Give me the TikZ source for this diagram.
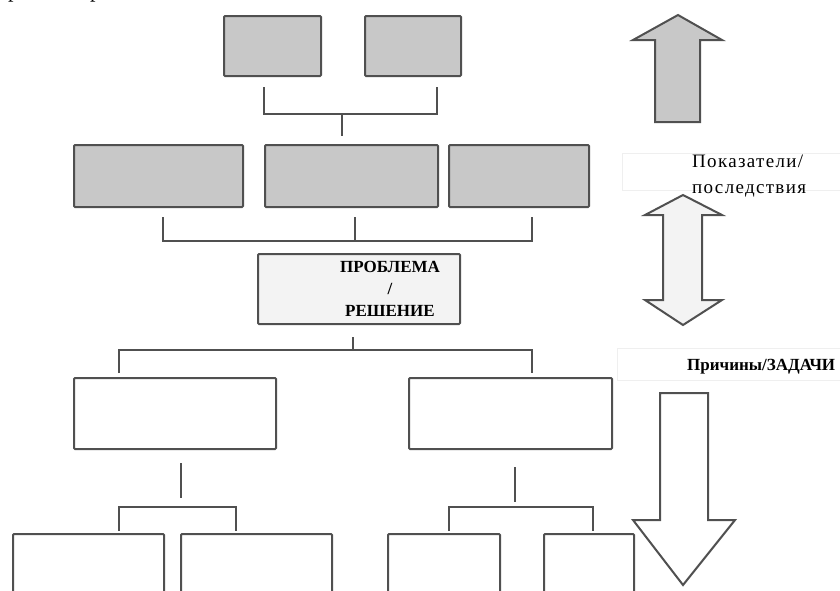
\documentclass[tikz,border=0pt]{standalone}
\usepackage{fontspec}
\setmainfont{Liberation Serif}
\newfontfamily\widefont[LetterSpace=7]{Liberation Serif}
\definecolor{linec}{HTML}{505050}
\definecolor{greyfill}{HTML}{C8C8C8}
\definecolor{lightfill}{HTML}{F3F3F3}
\definecolor{faint}{HTML}{EFEFEF}
\tikzset{
  box/.style={draw=linec, line width=2pt, rounded corners=1pt, inner sep=0pt, anchor=north west},
  gbox/.style={box, fill=greyfill},
  wbox/.style={box, fill=white},
  conn/.style={draw=linec, line width=2pt},
  arrowshape/.style={draw=linec, line width=2pt, line join=miter},
  lbl/.style={inner sep=0pt, anchor=base west, text=black},
}
\begin{document}
\begin{tikzpicture}[x=1pt,y=-1pt]
\useasboundingbox (0,0) rectangle (840,590);
\fill[white] (0,0) rectangle (840,590);

% cut-off text at top
\node[lbl, font=\fontsize{22}{24}\selectfont] (cut1) at (8,-3) {р};
\node[lbl, font=\fontsize{22}{24}\selectfont] (cut2) at (90,-3) {р};

% top boxes
\node[gbox, minimum width=97pt, minimum height=60pt] (t1) at (223,15) {};
\node[gbox, minimum width=96pt, minimum height=60pt] (t2) at (364,15) {};
% middle boxes
\node[gbox, minimum width=169pt, minimum height=62pt] (m1) at (73,144) {};
\node[gbox, minimum width=173pt, minimum height=62pt] (m2) at (264,144) {};
\node[gbox, minimum width=140pt, minimum height=62pt] (m3) at (448,144) {};
% problem box
\node[box, fill=lightfill, minimum width=202pt, minimum height=70pt] (p) at (257,253) {};
\node[align=center, inner sep=0pt, font=\fontsize{17}{22}\selectfont\bfseries] (ptext) at (390,289) {ПРОБЛЕМА\\/\\РЕШЕНИЕ};
% lower boxes
\node[wbox, minimum width=202pt, minimum height=71pt] (l1) at (73,377) {};
\node[wbox, minimum width=203pt, minimum height=71pt] (l2) at (408,377) {};
% bottom boxes (cut off)
\node[wbox, minimum width=151pt, minimum height=80pt] (b1) at (12,533) {};
\node[wbox, minimum width=151pt, minimum height=80pt] (b2) at (180,533) {};
\node[wbox, minimum width=112pt, minimum height=80pt] (b3) at (387,533) {};
\node[wbox, minimum width=90pt, minimum height=80pt] (b4) at (543,533) {};

% connector coordinates
\coordinate (c1a) at (264,87);  \coordinate (c1b) at (437,87);
\coordinate (c1h) at (342,114); \coordinate (c1d) at (342,136);
\draw[conn] (c1a) -- (c1a |- c1h) -- (c1b |- c1h) -- (c1b);
\draw[conn] (c1h) -- (c1d);

\coordinate (c2a) at (163,217); \coordinate (c2b) at (355,217); \coordinate (c2c) at (532,217);
\coordinate (c2h) at (163,241);
\draw[conn] (c2a) -- (c2h) -- (c2c |- c2h) -- (c2c);
\draw[conn] (c2b) -- (c2b |- c2h);

\coordinate (c3t) at (353,337); \coordinate (c3h) at (353,350);
\coordinate (c3l) at (119,373); \coordinate (c3r) at (532,373);
\draw[conn] (c3t) -- (c3h);
\draw[conn] (c3l) -- (c3l |- c3h) -- (c3r |- c3h) -- (c3r);

\coordinate (c4t) at (181,463); \coordinate (c4b) at (181,498);
\coordinate (c4l) at (119,531); \coordinate (c4r) at (236,531); \coordinate (c4h) at (119,507);
\draw[conn] (c4t) -- (c4b);
\draw[conn] (c4l) -- (c4h) -- (c4r |- c4h) -- (c4r);

\coordinate (c5t) at (515,467); \coordinate (c5b) at (515,502);
\coordinate (c5l) at (449,531); \coordinate (c5r) at (593,531); \coordinate (c5h) at (449,507);
\draw[conn] (c5t) -- (c5b);
\draw[conn] (c5l) -- (c5h) -- (c5r |- c5h) -- (c5r);

% right side: faint label boxes and labels
\draw[faint, line width=0.8pt] (845,153) -- (622,153) -- (622,190) -- (845,190);
\node[lbl, font=\fontsize{19}{22}\widefont] (lab1) at (692,167) {Показатели/};
\node[lbl, font=\fontsize{19}{22}\widefont] (lab2) at (692,193) {последствия};

\draw[faint, line width=0.8pt] (845,348) -- (617,348) -- (617,380) -- (845,380);
\node[lbl, font=\fontsize{17}{20}\selectfont\bfseries] (lab3) at (687,370) {Причины/ЗАДАЧИ};

% up arrow
\draw[arrowshape, fill=greyfill] (678,15) -- (722,40) -- (700,40) -- (700,122) -- (655,122) -- (655,40) -- (633,40) -- cycle;
% double arrow
\draw[arrowshape, fill=lightfill] (683,195) -- (722,215) -- (702,215) -- (702,300) -- (722,300) -- (683,325) -- (645,300) -- (663,300) -- (663,215) -- (645,215) -- cycle;
% down arrow
\draw[arrowshape, fill=white] (660,393) -- (708,393) -- (708,520) -- (735,520) -- (683,585) -- (633,520) -- (660,520) -- cycle;
\end{tikzpicture}
\end{document}
